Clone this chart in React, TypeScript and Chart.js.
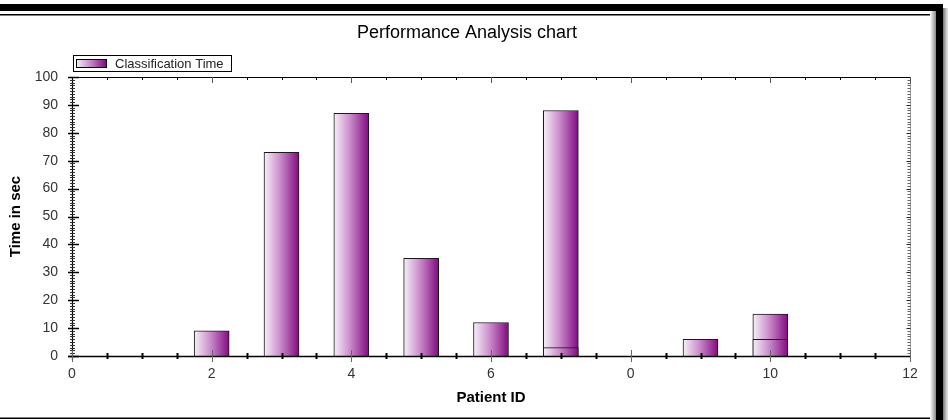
import React, { useEffect, useRef } from "react";
import { Chart, registerables } from "chart.js";

Chart.register(...registerables);

const chartTitle = "Performance Analysis chart";
const seriesName = "Classification Time";
const xAxisTitle = "Patient ID";
const yAxisTitle = "Time in sec";

const patientIds = [2, 3, 4, 5, 6, 7, 7, 9, 10, 10];
const times = [9, 73, 87, 35, 12, 88, 3, 6, 15, 6];

const xTickValues = [0, 2, 4, 6, 8, 10, 12];
const xTickLabels = ["0", "2", "4", "6", "0", "10", "12"];
const yMin = 0;
const yMax = 100;
const yStep = 10;

const FONT = "'Liberation Sans', Arial, sans-serif";
const BAR_W = 35;

function makeGradient(ctx: CanvasRenderingContext2D, x0: number, x1: number) {
  const g = ctx.createLinearGradient(x0, 0, x1, 0);
  g.addColorStop(0, "#f7f0f8");
  g.addColorStop(0.45, "#cc8fcc");
  g.addColorStop(1, "#820a82");
  return g;
}

const framePlugin = {
  id: "frame",
  beforeDraw(chart: any) {
    const ctx = chart.ctx as CanvasRenderingContext2D;
    const W = chart.width;
    const H = chart.height;
    ctx.save();
    ctx.fillStyle = "#ffffff";
    ctx.fillRect(0, 0, W, H);
    ctx.fillStyle = "#000";
    ctx.fillRect(0, 4, 943, 7);
    ctx.fillRect(0, 14, 934, 1.5);
    ctx.fillRect(0, 417.5, 934, 1.5);
    const gl = ctx.createLinearGradient(930, 0, 936, 0);
    gl.addColorStop(0, "#ffffff");
    gl.addColorStop(1, "#888888");
    ctx.fillStyle = gl;
    ctx.fillRect(930, 11, 6, H - 11);
    ctx.fillStyle = "#000";
    ctx.fillRect(936, 4, 7, H - 4);
    const gr = ctx.createLinearGradient(943, 0, 948, 0);
    gr.addColorStop(0, "#777777");
    gr.addColorStop(1, "#eeeeee");
    ctx.fillStyle = gr;
    ctx.fillRect(943, 8, 5, H - 8);
    ctx.restore();
  },
};

const axesPlugin = {
  id: "axesDraw",
  afterDatasetsDraw(chart: any) {
    const ctx = chart.ctx as CanvasRenderingContext2D;
    const xs = chart.scales.x;
    const ys = chart.scales.y;
    const L = xs.getPixelForValue(xs.min);
    const R = xs.getPixelForValue(xs.max);
    const T = ys.getPixelForValue(ys.max);
    const B = ys.getPixelForValue(ys.min);
    ctx.save();
    ctx.strokeStyle = "#9a9a9a";
    ctx.lineWidth = 1;
    ctx.beginPath();
    ctx.moveTo(Math.round(R) + 0.5, T);
    ctx.lineTo(Math.round(R) + 0.5, B + 4);
    ctx.stroke();
    for (let v = ys.min; v <= ys.max; v += 1) {
      const y = Math.round(ys.getPixelForValue(v)) + 0.5;
      const major = v % 10 === 0;
      ctx.strokeStyle = major ? "#222" : "#666";
      ctx.beginPath();
      ctx.moveTo(Math.round(R) + 0.5 - (major ? 4 : 3), y);
      ctx.lineTo(Math.round(R) + 0.5, y);
      ctx.stroke();
    }
    ctx.strokeStyle = "#000";
    ctx.lineWidth = 1.2;
    ctx.beginPath();
    ctx.moveTo(L, Math.round(T) + 0.5);
    ctx.lineTo(R, Math.round(T) + 0.5);
    ctx.stroke();
    ctx.lineWidth = 1;
    for (let v = xs.min; v <= xs.max + 1e-9; v += 0.5) {
      const x = Math.round(xs.getPixelForValue(v)) + 0.5;
      const major = Math.abs(v % 2) < 1e-9;
      ctx.strokeStyle = major ? "#555" : "#000";
      ctx.beginPath();
      ctx.moveTo(x, T);
      ctx.lineTo(x, T + (major ? 6 : 3));
      ctx.stroke();
    }
    ctx.strokeStyle = "#000";
    ctx.lineWidth = 1.2;
    ctx.beginPath();
    ctx.moveTo(Math.round(L) + 0.5, T);
    ctx.lineTo(Math.round(L) + 0.5, B + 4);
    ctx.stroke();
    for (let v = ys.min; v <= ys.max; v += 1) {
      const y = Math.round(ys.getPixelForValue(v)) + 0.5;
      const major = v % 10 === 0;
      ctx.beginPath();
      if (major) {
        ctx.lineWidth = 1.5;
        ctx.strokeStyle = "#000";
        ctx.moveTo(L - 4, y);
        ctx.lineTo(L + 7, y);
      } else {
        ctx.lineWidth = 1;
        ctx.strokeStyle = "#333";
        ctx.moveTo(L - 2, y);
        ctx.lineTo(L + 3, y);
      }
      ctx.stroke();
    }
    ctx.lineWidth = 1.5;
    ctx.strokeStyle = "#000";
    ctx.beginPath();
    ctx.moveTo(L - 4, Math.round(B) + 0.5);
    ctx.lineTo(R + 1, Math.round(B) + 0.5);
    ctx.stroke();
    for (let v = xs.min; v <= xs.max + 1e-9; v += 0.5) {
      const x = Math.round(xs.getPixelForValue(v)) + 0.5;
      const major = Math.abs(v % 2) < 1e-9;
      ctx.beginPath();
      if (major) {
        ctx.strokeStyle = "#666";
        ctx.lineWidth = 1;
        ctx.moveTo(x, B - 6);
        ctx.lineTo(x, B + 6);
      } else {
        ctx.strokeStyle = "#000";
        ctx.lineWidth = 2;
        ctx.moveTo(x, B - 3);
        ctx.lineTo(x, B + 3);
      }
      ctx.stroke();
    }
    ctx.restore();
  },
  afterDraw(chart: any) {
    const ctx = chart.ctx as CanvasRenderingContext2D;
    ctx.save();
    ctx.strokeStyle = "#000";
    ctx.lineWidth = 1;
    ctx.strokeRect(73.5, 55.5, 158, 16);
    ctx.fillStyle = makeGradient(ctx, 76, 106);
    ctx.fillRect(76, 59, 30, 8);
    ctx.strokeRect(76.5, 59.5, 30, 8);
    ctx.fillStyle = "#222";
    ctx.font = `13px ${FONT}`;
    ctx.textBaseline = "middle";
    ctx.textAlign = "left";
    ctx.fillText(seriesName, 115, 64);
    ctx.restore();
  },
};

export default function App() {
  const ref = useRef<HTMLCanvasElement | null>(null);
  useEffect(() => {
    if (!ref.current) return;
    const points = patientIds.map((x, i) => ({ x, y: times[i] }));
    const chart = new Chart(ref.current, {
      type: "bar",
      data: {
        datasets: [
          {
            label: seriesName,
            data: points as any,
            barThickness: BAR_W,
            borderColor: "#1a1a1a",
            borderWidth: 1,
            borderSkipped: "bottom",
            yAxisID: "y",
            xAxisID: "x",
            backgroundColor: (c: any) => {
              const xs = c.chart.scales?.x;
              if (c.type !== "data" || !xs || !c.parsed) return "#a050a0";
              const px = xs.getPixelForValue(c.parsed.x);
              if (!Number.isFinite(px)) return "#a050a0";
              return makeGradient(c.chart.ctx, px - BAR_W / 2, px + BAR_W / 2);
            },
          },
        ],
      },
      options: {
        responsive: false,
        animation: false,
        events: [],
        devicePixelRatio: 1,
        layout: { padding: { left: 0, right: 14, top: 0, bottom: 0 } },
        plugins: {
          legend: { display: false },
          tooltip: { enabled: false },
          title: {
            display: true,
            text: chartTitle,
            color: "#000",
            font: { family: FONT, size: 18, weight: "normal" },
            padding: { top: 22, bottom: 33.4 },
          },
        },
        scales: {
          x: {
            type: "linear",
            min: xTickValues[0],
            max: xTickValues[xTickValues.length - 1],
            offset: false,
            grid: { display: false, drawTicks: false, offset: false },
            border: { display: false },
            ticks: {
              stepSize: 2,
              padding: 10,
              color: "#333",
              font: { family: FONT, size: 14 },
              maxRotation: 0,
              callback: (v: any) => {
                const i = xTickValues.indexOf(Number(v));
                return i >= 0 ? xTickLabels[i] : "";
              },
            },
            title: {
              display: true,
              text: xAxisTitle,
              color: "#000",
              font: { family: FONT, size: 15, weight: "bold" },
              padding: { top: 0, bottom: 13 },
            },
            afterFit: (s: any) => {
              s.height = 64;
            },
          },
          y: {
            min: yMin,
            max: yMax,
            grid: { display: false, drawTicks: false },
            border: { display: false },
            ticks: {
              stepSize: yStep,
              padding: 14,
              color: "#333",
              font: { family: FONT, size: 14 },
            },
            title: {
              display: true,
              text: yAxisTitle,
              color: "#000",
              font: { family: FONT, size: 15, weight: "bold" },
              padding: { top: 7, bottom: 0 },
            },
            afterFit: (s: any) => {
              s.width = 72;
            },
          },
          yRight: {
            position: "right",
            display: true,
            grid: { display: false, drawTicks: false },
            border: { display: false },
            ticks: { display: false },
            afterFit: (s: any) => {
              s.width = 24;
            },
          },
        },
      },
      plugins: [framePlugin, axesPlugin],
    });
    return () => chart.destroy();
  }, []);
  return (
    <div style={{ position: "absolute", left: 0, top: 0, width: 948, height: 420, background: "#fff" }}>
      <canvas ref={ref} width={948} height={420} style={{ display: "block" }} />
    </div>
  );
}
